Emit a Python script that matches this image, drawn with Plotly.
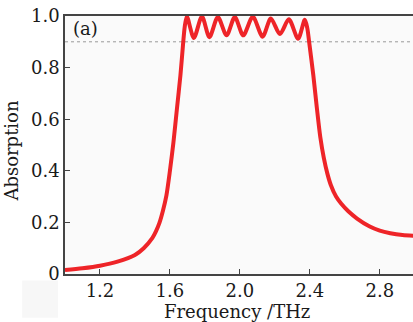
import plotly.graph_objects as go

# Frequency (THz) and absorption values
freq = [1.00, 1.10, 1.20, 1.30, 1.40, 1.45, 1.50, 1.52, 1.54, 1.56, 1.58, 1.60,
        1.62, 1.64, 1.66, 1.675, 1.685, 1.697,
        1.737, 1.783, 1.826, 1.874, 1.924, 1.971, 2.019, 2.074, 2.130, 2.177,
        2.229, 2.280, 2.333, 2.371,
        2.385, 2.396, 2.42, 2.44, 2.46, 2.48, 2.50, 2.52, 2.55, 2.58, 2.62, 2.67,
        2.74, 2.80, 2.86, 2.93, 3.00]
absorption = [0.015, 0.022, 0.032, 0.048, 0.074, 0.100, 0.140, 0.165, 0.198, 0.245, 0.305, 0.400,
              0.510, 0.640, 0.770, 0.890, 0.960, 0.998,
              0.915, 0.998, 0.918, 0.996, 0.925, 0.996, 0.925, 0.997, 0.920, 0.990,
              0.930, 0.987, 0.912, 0.985,
              0.955, 0.900, 0.770, 0.645, 0.530, 0.450, 0.390, 0.345, 0.300, 0.272, 0.243, 0.215,
              0.185, 0.168, 0.158, 0.151, 0.148]

x_ticks = [1.2, 1.6, 2.0, 2.4, 2.8]
x_tick_text = ["1.2", "1.6", "2.0", "2.4", "2.8"]
y_ticks = [0, 0.2, 0.4, 0.6, 0.8, 1.0]
y_tick_text = ["0", "0.2", "0.4", "0.6", "0.8", "1.0"]
threshold = 0.9

font_family = "DejaVu Serif"
axis_color = "#444444"
text_color = "#1a1a1a"
fs = 18

fig = go.Figure()
fig.add_trace(go.Scatter(
    x=freq, y=absorption, mode="lines",
    line=dict(color="rgb(238,36,40)", width=4, shape="spline", smoothing=0.8),
    showlegend=False, hoverinfo="skip",
))

fig.add_shape(type="line", xref="paper", yref="y", x0=0, x1=1, y0=threshold, y1=threshold,
              line=dict(color="#999999", width=1, dash="dot"), layer="below")
fig.add_shape(type="rect", xref="paper", yref="paper", x0=-0.123, x1=-0.02, y0=-0.025, y1=-0.17,
              fillcolor="#f7f7f7", line=dict(width=0), layer="below")

fig.add_annotation(text="(a)", xref="paper", yref="paper", x=0.018, y=1.0,
                   xanchor="left", yanchor="top", showarrow=False,
                   font=dict(family=font_family, size=fs, color=text_color))
fig.add_annotation(text="Frequency /THz", xref="paper", yref="paper", x=0.495, y=-0.098,
                   xanchor="center", yanchor="top", showarrow=False,
                   font=dict(family=font_family, size=fs, color=text_color))
fig.add_annotation(text="Absorption", xref="paper", yref="paper", x=-0.118, y=0.48,
                   xanchor="right", yanchor="middle", showarrow=False, textangle=-90,
                   font=dict(family=font_family, size=fs, color=text_color))

fig.update_layout(
    width=413, height=322,
    margin=dict(l=65, r=0, t=16, b=48, autoexpand=False),
    paper_bgcolor="white",
    plot_bgcolor="#fafafa",
    font=dict(family=font_family, size=fs, color=text_color),
    xaxis=dict(
        range=[1.0, 2.99], tickvals=x_ticks, ticktext=x_tick_text,
        ticks="inside", ticklen=5, tickcolor=axis_color, tickwidth=1.2,
        showline=True, linecolor=axis_color, linewidth=1.5, mirror=True,
        showgrid=False, zeroline=False, automargin=False,
        tickfont=dict(size=fs),
    ),
    yaxis=dict(
        range=[0, 1.0], tickvals=y_ticks, ticktext=y_tick_text,
        ticks="inside", ticklen=5, tickcolor=axis_color, tickwidth=1.2,
        showline=True, linecolor=axis_color, linewidth=1.5, mirror=False,
        showgrid=False, zeroline=False, automargin=False,
        tickfont=dict(size=fs),
    ),
)

fig.write_html("out.html", config={"displayModeBar": False},
               post_script="document.body.style.margin='0px';document.body.style.overflow='hidden';")
